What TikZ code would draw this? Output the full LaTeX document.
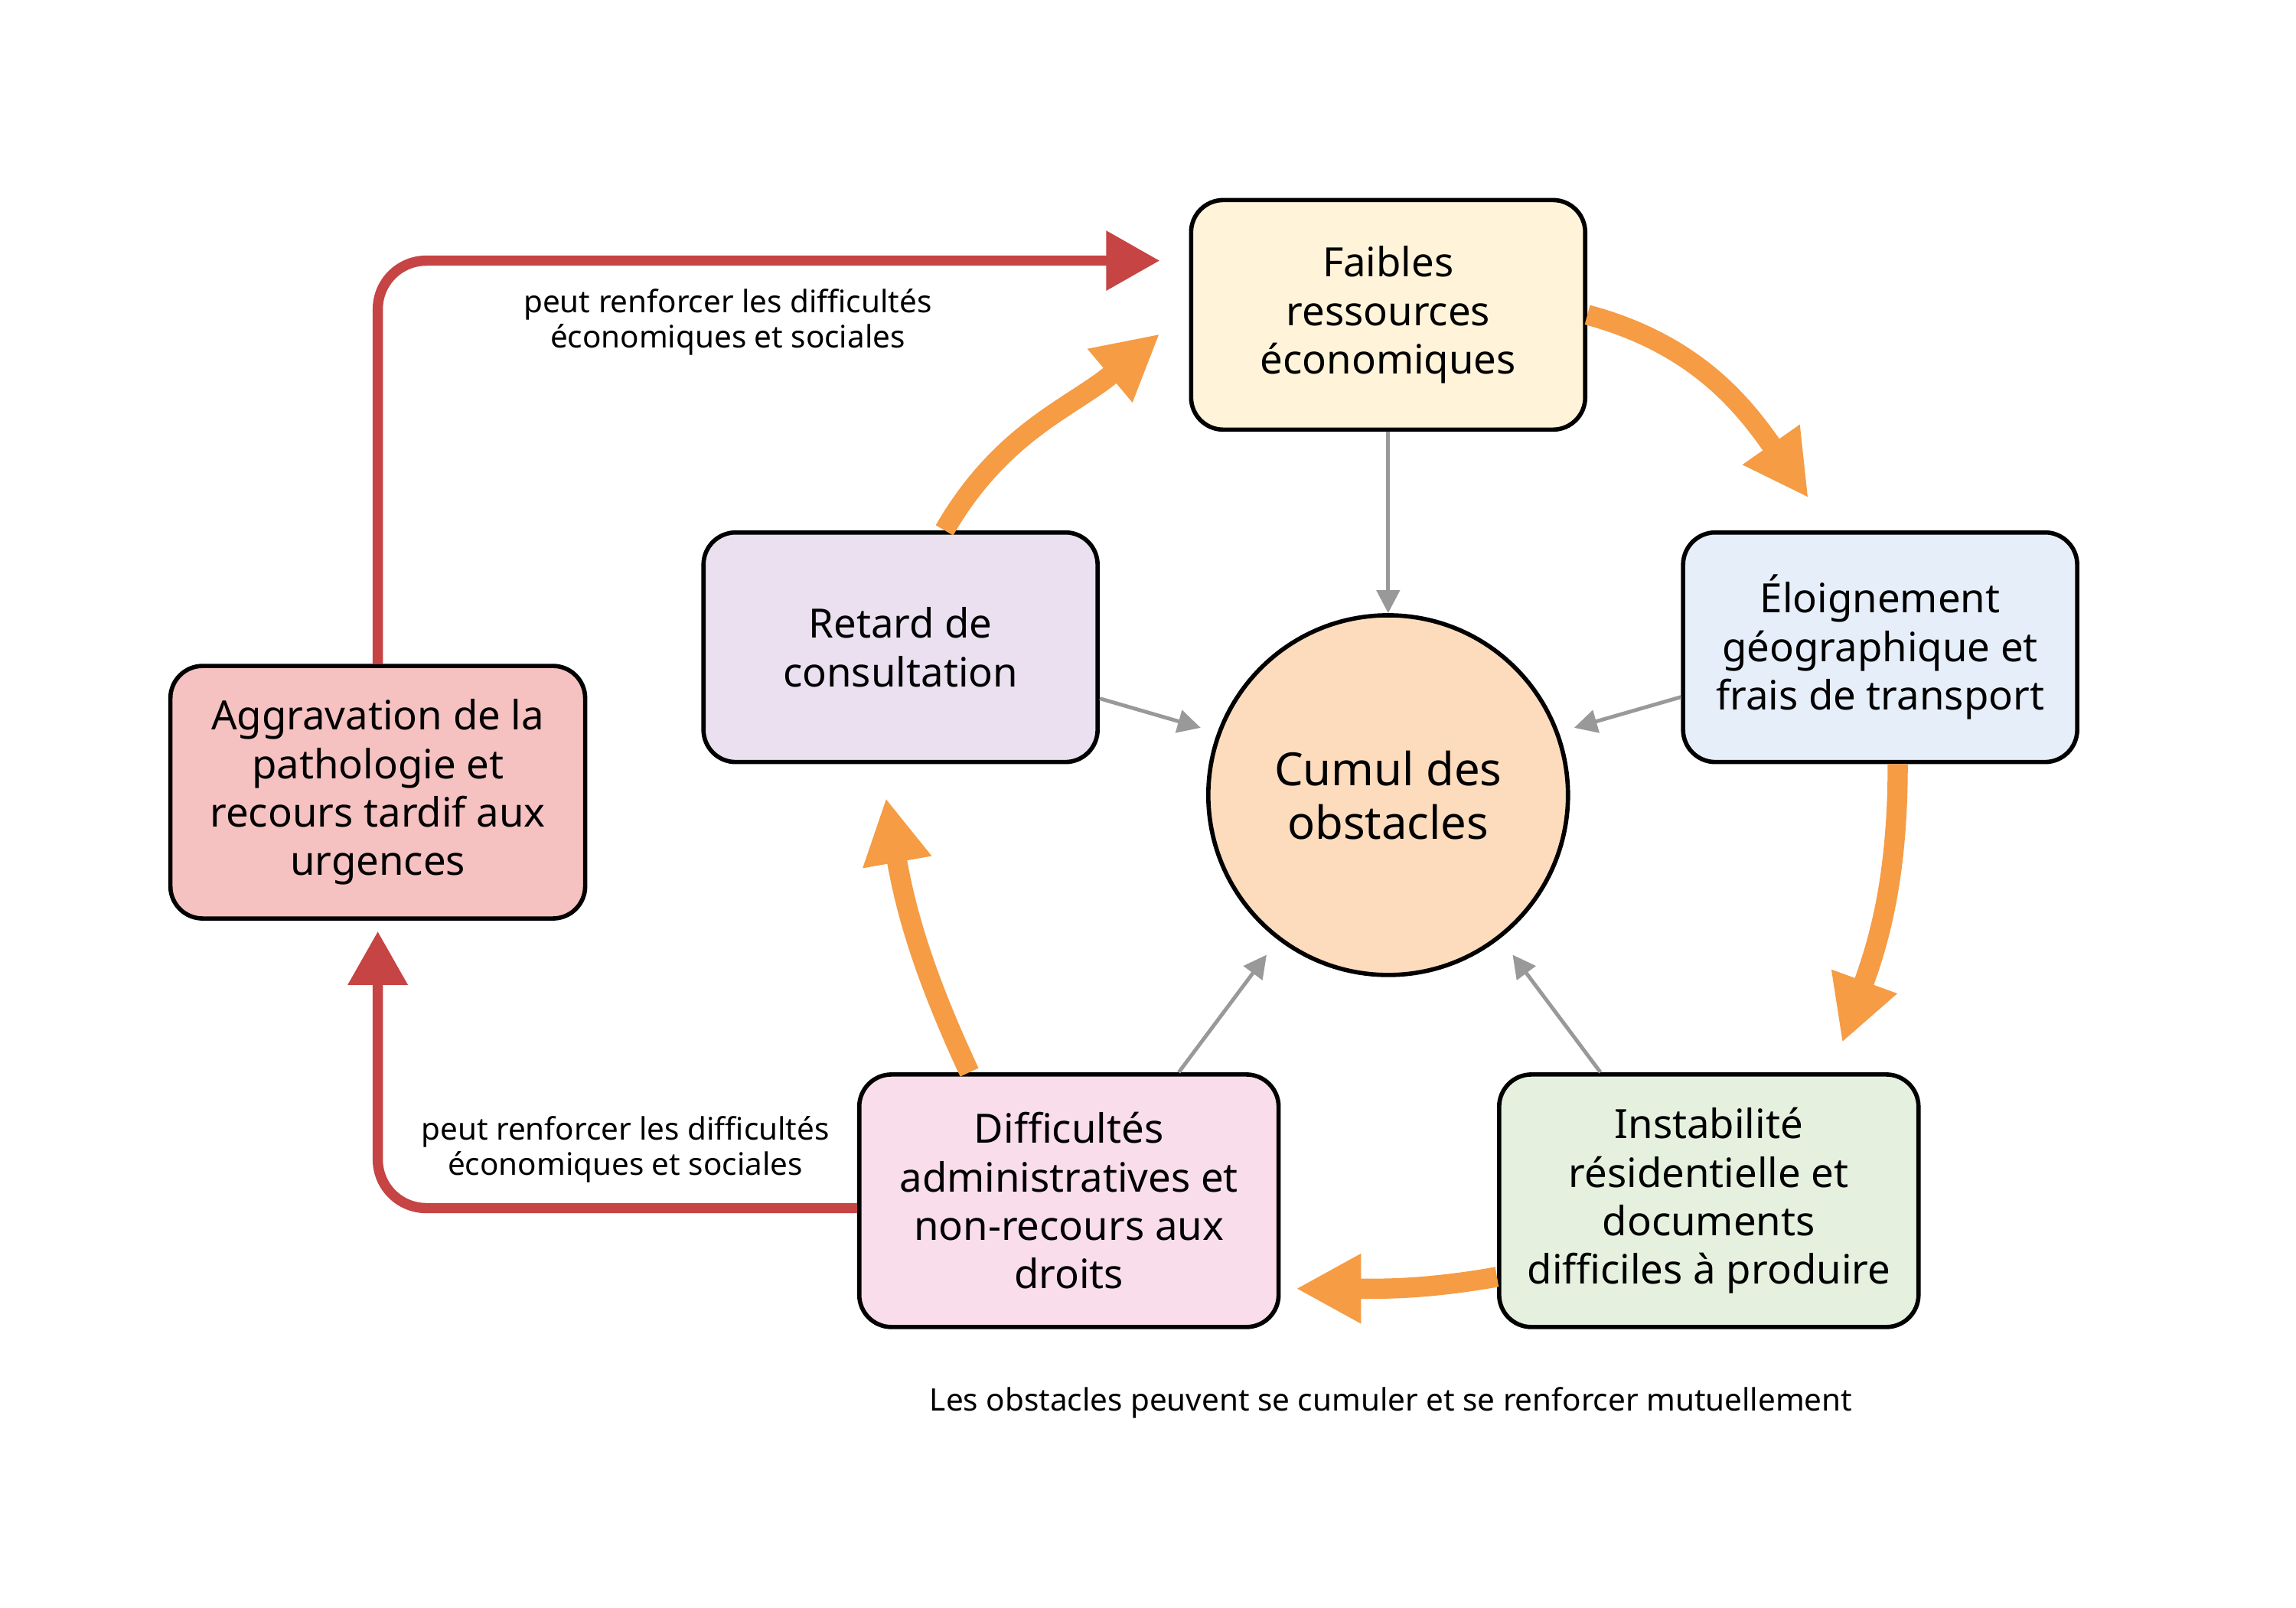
\documentclass[tikz,border=0pt]{standalone}
\usepackage{fontspec}
\setmainfont{Noto Sans}
\usetikzlibrary{arrows.meta}
\definecolor{ecoFill}{HTML}{FFF4D9}
\definecolor{geoFill}{HTML}{E6EEF9}
\definecolor{retFill}{HTML}{EAE0F0}
\definecolor{cumFill}{HTML}{FDDCBD}
\definecolor{aggFill}{HTML}{F6C1C1}
\definecolor{admFill}{HTML}{F9DDEA}
\definecolor{insFill}{HTML}{E5F1DE}
\definecolor{cycOrange}{HTML}{F59C45}
\definecolor{loopRed}{HTML}{C64444}
\tikzset{
  box/.style={draw=black,line width=1.6pt,rounded corners=12pt,align=center,
    font=\fontsize{15}{18}\selectfont,minimum width=5.15cm,minimum height=3cm},
  cycle/.style={draw=cycOrange,line width=7.5pt,-{Triangle[length=0.85cm,width=0.85cm]}},
  feed/.style={draw=loopRed,line width=3.8pt,rounded corners=18pt,-{Triangle[length=0.7cm,width=0.75cm]}},
  link/.style={draw=black!40,line width=1.4pt,-{Triangle[length=0.3cm,width=0.3cm]}},
  note/.style={font=\fontsize{11.5}{13}\selectfont,align=center}
}
\begin{document}
\begin{tikzpicture}[x=0.01913cm,y=-0.01913cm]
\useasboundingbox (0,0) rectangle (1568,1098);

% Nodes
\node[draw=black,line width=1.6pt,circle,fill=cumFill,minimum size=4.7cm,align=center,
  font=\fontsize{17}{20}\selectfont] (cumul) at (948,543) {Cumul des\\obstacles};
\node[box,fill=ecoFill] (eco) at (948,215) {Faibles\\ressources\\économiques};
\node[box,fill=geoFill] (geo) at (1284,442) {Éloignement\\géographique et\\frais de transport};
\node[box,fill=retFill] (ret) at (615,442) {Retard de\\consultation};
\node[box,fill=insFill,minimum width=5.48cm,minimum height=3.3cm] (ins) at (1167,820) {Instabilité\\résidentielle et\\documents\\difficiles à produire};
\node[box,fill=admFill,minimum width=5.48cm,minimum height=3.3cm] (adm) at (730,820) {Difficultés\\administratives et\\non-recours aux\\droits};
\node[box,fill=aggFill,minimum width=5.42cm,minimum height=3.3cm] (agg) at (258,541) {Aggravation de la\\pathologie et\\recours tardif aux\\urgences};

% Cycle arrows
\draw[cycle] (eco.east) to[out=-15,in=125] (1235,340);
\draw[cycle] (geo.south) ++(12,0) to[out=-90,in=70] (1258,712);
\draw[cycle] (ins.west) ++(0,52) to[out=190,in=0] (885,880);
\draw[cycle] (adm.north) ++(-68,0) to[out=115,in=-80] (605,545);
\draw[cycle] (ret.north) ++(30,0) to[out=60,in=-140] (792,228);

% Links to the centre
\draw[link] (eco.south) -- (cumul.north);
\draw[link] (ret.east) ++(0,35) -- (820,497);
\draw[link] (geo.west) ++(0,34) -- (1075,497);
\draw[link] (adm.north) ++(75,0) -- (865,652);
\draw[link] (ins.north) ++(-74,0) -- (1033,652);

% Feedback loops
\coordinate (top) at (792,178);
\coordinate (low) at (258,636);
\draw[feed] (agg.north) |- (top);
\draw[feed] (adm.west) ++(0,5) -| (low);
\node[note] at (497,220) {peut renforcer les difficultés\\économiques et sociales};
\node[note] at (427,785) {peut renforcer les difficultés\\économiques et sociales};

\node[note] at (950,958) {Les obstacles peuvent se cumuler et se renforcer mutuellement};
\end{tikzpicture}
\end{document}
